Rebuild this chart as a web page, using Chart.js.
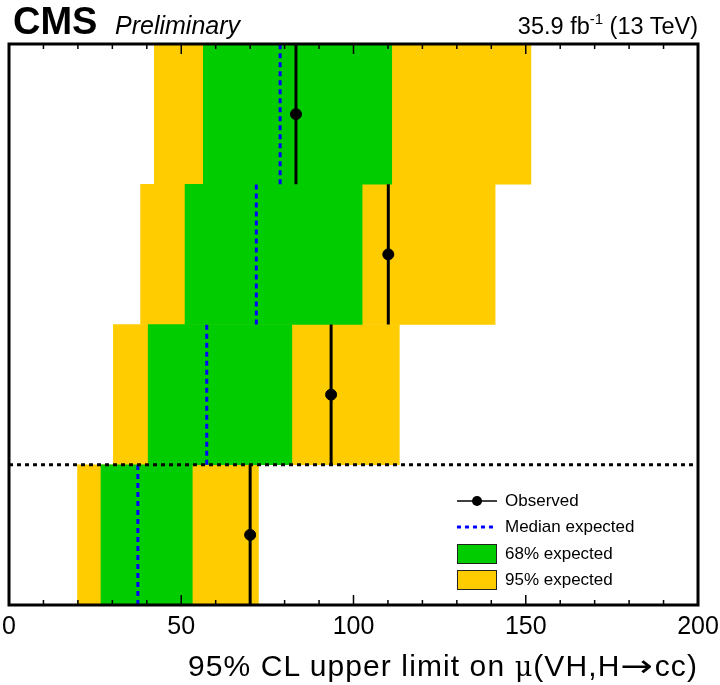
<!DOCTYPE html>
<html>
<head>
<meta charset="utf-8">
<script src="https://cdn.jsdelivr.net/npm/chart.js@4.4.0/dist/chart.umd.min.js"></script>
<style>
  body { margin: 0; background: #fff; font-family: "Liberation Sans", Arial, sans-serif; }
  #wrap { position: relative; width: 720px; height: 685px; }
  #c { position: absolute; left: 0; top: 0; }
  .hdr { position: absolute; line-height: 1; white-space: nowrap; color: #000; }
  .cms { left: 13px; top: 2px; font-size: 38px; font-weight: bold; }
  .prelim { left: 115px; top: 13px; font-size: 25px; font-style: italic; }
  .lumi { right: 22px; top: 15px; font-size: 23.5px; }
  .lumi sup { font-size: 15px; vertical-align: 10px; line-height: 0; }
  .xtitle { right: 22px; top: 651px; font-size: 30px; letter-spacing: 1.1px; }
  .xtitle .mu { font-family: "DejaVu Serif", serif; font-size: 27px; }
  .xtitle .arr { font-family: "DejaVu Sans", sans-serif; display: inline-block; transform: scaleX(1.3); margin: 0 4px; }
  #legend { position: absolute; left: 457px; top: 488px; font-size: 17px; }
  #legend .row { display: flex; align-items: center; height: 26.3px; }
  #legend .sym { width: 40px; height: 20px; margin-right: 8px; display: flex; align-items: center; justify-content: center; }
  #legend .box { width: 38px; height: 18px; border: 1px solid #222; }
</style>
</head>
<body>
<div id="wrap">
  <canvas id="c" width="720" height="685"></canvas>
  <div class="hdr cms">CMS</div>
  <div class="hdr prelim">Preliminary</div>
  <div class="hdr lumi">35.9 fb<sup>-1</sup> (13 TeV)</div>
  <div class="hdr xtitle">95% CL upper limit on <span class="mu">μ</span>(VH,H<span class="arr">→</span>cc)</div>
  <div id="legend">
    <div class="row">
      <div class="sym"><svg width="40" height="20"><line x1="0" y1="10" x2="40" y2="10" stroke="#000" stroke-width="1.5"/><circle cx="20" cy="10" r="5" fill="#000"/></svg></div>
      <span>Observed</span>
    </div>
    <div class="row">
      <div class="sym"><svg width="40" height="20"><line x1="0" y1="10" x2="40" y2="10" stroke="#0000ff" stroke-width="3" stroke-dasharray="4 4"/></svg></div>
      <span>Median expected</span>
    </div>
    <div class="row">
      <div class="sym"><div class="box" style="background:#00cc00"></div></div>
      <span>68% expected</span>
    </div>
    <div class="row">
      <div class="sym"><div class="box" style="background:#ffcc00"></div></div>
      <span>95% expected</span>
    </div>
  </div>
</div>
<script>
// channels, top to bottom (labels are not drawn in the plot)
const channels = ['0-lepton', '1-lepton', '2-lepton', 'Combined'];
const observed = [83.3, 110.1, 93.5, 70.0];
const expMedian = [78.7, 71.8, 57.4, 37.4];
const exp68Lo = [56.4, 51.1, 40.4, 26.7];
const exp68Hi = [111.1, 102.5, 82.1, 53.2];
const exp95Lo = [42.2, 38.2, 30.3, 19.9];
const exp95Hi = [151.5, 141.1, 113.3, 72.4];
const xTicks = [0, 50, 100, 150, 200];

const FONT = '"Liberation Sans", Arial, sans-serif';
const xMin = xTicks[0], xMax = xTicks[xTicks.length - 1];

// row centre on the linear y scale (top row highest)
const yc = i => channels.length - 0.5 - i;

const datasets = [];

datasets.push({
  type: 'bar', indexAxis: 'y', label: '95% expected',
  data: channels.map((c, i) => ({ x: [exp95Lo[i], exp95Hi[i]], y: yc(i) })),
  backgroundColor: '#ffcc00', borderWidth: 0,
  grouped: false, barPercentage: 1, categoryPercentage: 1, order: 5
});
datasets.push({
  type: 'bar', indexAxis: 'y', label: '68% expected',
  data: channels.map((c, i) => ({ x: [exp68Lo[i], exp68Hi[i]], y: yc(i) })),
  backgroundColor: '#00cc00', borderWidth: 0,
  grouped: false, barPercentage: 1, categoryPercentage: 1, order: 4
});

// vertical segments spanning each row
channels.forEach((c, i) => {
  datasets.push({
    type: 'scatter', label: 'Median expected', showLine: true,
    data: [{ x: expMedian[i], y: yc(i) - 0.5 }, { x: expMedian[i], y: yc(i) + 0.5 }],
    borderColor: '#0000ff', borderWidth: 3, borderDash: [5, 4], pointRadius: 0, order: 3
  });
  datasets.push({
    type: 'scatter', label: 'Observed', showLine: true,
    data: [{ x: observed[i], y: yc(i) - 0.5 }, { x: observed[i], y: yc(i) + 0.5 }],
    borderColor: '#000', borderWidth: 3, pointRadius: 0, order: 2
  });
});

datasets.push({
  type: 'scatter', label: 'Observed points',
  data: channels.map((c, i) => ({ x: observed[i], y: yc(i) })),
  backgroundColor: '#000', borderColor: '#000', pointRadius: 5.5, order: 1
});

// dotted line separating the combination from the single channels
datasets.push({
  type: 'scatter', label: 'separator', showLine: true,
  data: [{ x: xMin, y: yc(3) + 0.5 }, { x: xMax, y: yc(3) + 0.5 }],
  borderColor: '#000', borderWidth: 3, borderDash: [4, 4], pointRadius: 0, order: 0
});

// frame with ROOT-style ticks on top and bottom
const framePlugin = {
  id: 'frame',
  afterDatasetsDraw(chart) {
    const { ctx, chartArea: a, scales: { x } } = chart;
    ctx.save();
    ctx.strokeStyle = '#000';
    ctx.lineWidth = 1.5;
    ctx.beginPath();
    for (let v = xMin; v <= xMax; v += 10) {
      const px = x.getPixelForValue(v);
      const len = v % 50 === 0 ? 10 : 5;
      ctx.moveTo(px, a.bottom); ctx.lineTo(px, a.bottom - len);
      ctx.moveTo(px, a.top); ctx.lineTo(px, a.top + len);
    }
    ctx.stroke();
    ctx.lineWidth = 3;
    ctx.strokeRect(a.left, a.top, a.right - a.left, a.bottom - a.top);
    ctx.restore();
  }
};

new Chart(document.getElementById('c'), {
  type: 'scatter',
  data: { datasets },
  options: {
    responsive: false,
    animation: false,
    layout: { padding: { left: 9, right: 22, top: 44, bottom: 0 } },
    plugins: { legend: { display: false }, tooltip: { enabled: false } },
    scales: {
      x: {
        type: 'linear', position: 'bottom', min: xMin, max: xMax,
        grid: { display: false, drawTicks: false },
        border: { display: false },
        ticks: { stepSize: 50, color: '#000', padding: 7, maxRotation: 0, font: { size: 25, family: FONT } },
        afterFit(s) { s.height = 80; s.paddingLeft = 0; s.paddingRight = 0; }
      },
      y: {
        type: 'linear', min: 0, max: channels.length, display: false, offset: false,
        grid: { offset: false },
        ticks: { stepSize: 1 }
      }
    }
  },
  plugins: [framePlugin]
});
</script>
</body>
</html>
